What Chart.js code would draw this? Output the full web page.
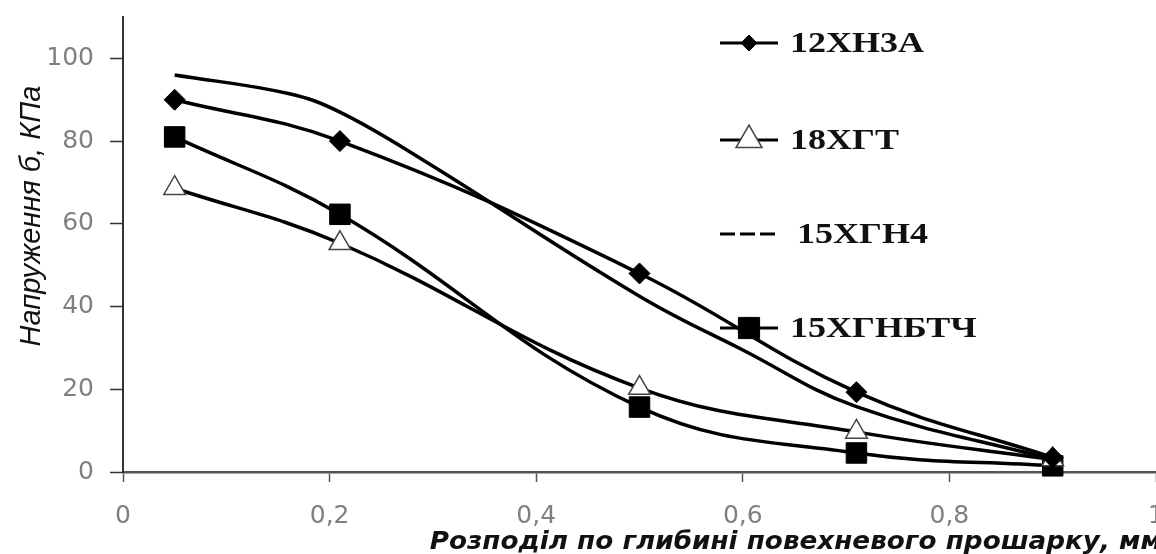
<!DOCTYPE html>
<html>
<head>
<meta charset="utf-8">
<script src="https://cdn.jsdelivr.net/npm/chart.js@4.4.1/dist/chart.umd.min.js"></script>
<style>
  html, body { margin: 0; padding: 0; background: #fff; }
</style>
</head>
<body>
<canvas id="myLineChart" width="1156" height="554"></canvas>
<script>
// depth, mm
const depth = [0.05, 0.21, 0.5, 0.71, 0.9];
// stress, KPa
const s12XN3A = [90, 80, 48, 19.3, 3.5];
const s18XGT = [68.6, 55.3, 20.3, 9.7, 3];
const s15XGNBTCh = [81, 62.3, 15.7, 4.6, 1.5];
// 15ХГН4 has no markers
const depth15XGN4 = [0.05, 0.16, 0.21, 0.29, 0.5, 0.6, 0.71, 0.9];
const s15XGN4 = [96, 91.5, 87, 75.5, 42.5, 29.5, 15.8, 3];

const xTicks = [0, 0.2, 0.4, 0.6, 0.8, 1];
const yTicks = [0, 20, 40, 60, 80, 100];

const toPoints = (xs, ys) => xs.map((x, i) => ({ x: x, y: ys[i] }));

const legendRows = [43, 140, 234, 328];

// text in the picture is a bit stretched sideways
const drawWide = (ctx, text, x, y, sx) => {
    ctx.save();
    ctx.translate(x, y);
    ctx.scale(sx, 1);
    ctx.fillText(text, 0, 0);
    ctx.restore();
};

const sideLegend = {
    id: 'sideLegend',
    afterDraw(chart) {
        const ctx = chart.ctx;
        const drawPoint = Chart.helpers && Chart.helpers.drawPoint;
        chart.data.datasets.forEach((ds, i) => {
            const y = legendRows[i];
            ctx.save();
            ctx.strokeStyle = '#000';
            ctx.lineWidth = 3;
            ctx.setLineDash(ds.legendDash || []);
            ctx.beginPath();
            ctx.moveTo(720, y);
            ctx.lineTo(778, y);
            ctx.stroke();
            ctx.setLineDash([]);
            if (drawPoint && ds.pointRadius > 0) {
                ctx.fillStyle = ds.pointBackgroundColor;
                ctx.strokeStyle = ds.pointBorderColor;
                ctx.lineWidth = ds.pointBorderWidth;
                drawPoint(ctx, { pointStyle: ds.pointStyle, radius: ds.legendRadius, borderWidth: ds.pointBorderWidth, rotation: 0 }, 749, y);
            }
            ctx.fillStyle = '#111';
            ctx.font = 'bold 30px "Liberation Serif"';
            ctx.textBaseline = 'middle';
            ctx.textAlign = 'left';
            drawWide(ctx, ds.label, ds.legendTextX || 790, y + 1, 1.2);
            ctx.restore();
        });
    }
};

const axisTitles = {
    id: 'axisTitles',
    afterDraw(chart) {
        const ctx = chart.ctx;
        ctx.save();
        ctx.fillStyle = '#111';
        ctx.font = 'italic 29px "Liberation Sans"';
        ctx.textAlign = 'center';
        ctx.textBaseline = 'middle';
        ctx.translate(32, 216);
        ctx.rotate(-Math.PI / 2);
        ctx.fillText('Напруження б, КПа', 0, 0);
        ctx.restore();

        ctx.save();
        ctx.fillStyle = '#111';
        ctx.font = 'bold italic 25px "DejaVu Sans"';
        ctx.textAlign = 'right';
        ctx.textBaseline = 'alphabetic';
        drawWide(ctx, 'Розподіл по глибині повехневого прошарку, мм', 1162, 549, 1.05);
        ctx.restore();
    }
};

const lineChart = () => {
    const data = {
        datasets: [
            {
                label: '12ХН3А',
                data: toPoints(depth, s12XN3A),
                borderColor: '#000',
                borderWidth: 3.5,
                pointStyle: 'rectRot',
                pointRadius: 10.5,
                pointBackgroundColor: '#000',
                pointBorderColor: '#000',
                pointBorderWidth: 1,
                legendRadius: 8,
            },
            {
                label: '18ХГТ',
                data: toPoints(depth, s18XGT),
                borderColor: '#000',
                borderWidth: 3.5,
                pointStyle: 'triangle',
                pointRadius: 12.5,
                pointBackgroundColor: '#fff',
                pointBorderColor: '#444',
                pointBorderWidth: 1.5,
                legendRadius: 15,
            },
            {
                label: '15ХГН4',
                data: toPoints(depth15XGN4, s15XGN4),
                borderColor: '#000',
                borderWidth: 3.5,
                pointRadius: 0,
                legendDash: [15, 5],
                legendTextX: 797,
            },
            {
                label: '15ХГНБТЧ',
                data: toPoints(depth, s15XGNBTCh),
                borderColor: '#000',
                borderWidth: 3.5,
                pointStyle: 'rect',
                pointRadius: 14.5,
                pointBackgroundColor: '#000',
                pointBorderColor: '#000',
                pointBorderWidth: 1,
                legendRadius: 15,
            },
        ],
    };

    const config = {
        type: 'line',
        data: data,
        options: {
            responsive: false,
            animation: false,
            devicePixelRatio: 1,
            layout: { autoPadding: false, padding: { left: 0, right: 0, top: 17, bottom: 0 } },
            elements: { line: { tension: 0.4, fill: false } },
            datasets: { line: { clip: false } },
            plugins: { legend: { display: false }, tooltip: { enabled: false } },
            scales: {
                x: {
                    type: 'linear',
                    min: 0,
                    max: 1,
                    afterBuildTicks: s => { s.ticks = xTicks.map(v => ({ value: v })); },
                    afterFit: s => { s.height = 82; s.paddingLeft = 0; s.paddingRight = 0; },
                    ticks: {
                        color: '#808080',
                        font: { family: 'DejaVu Sans', size: 25 },
                        padding: 19,
                        maxRotation: 0,
                        callback: v => String(v).replace('.', ','),
                    },
                    grid: { drawOnChartArea: false, tickLength: 10, tickColor: '#555', tickWidth: 1.5 },
                    border: { color: '#555', width: 2.5 },
                },
                y: {
                    min: 0,
                    max: 110,
                    afterBuildTicks: s => { s.ticks = yTicks.map(v => ({ value: v })); },
                    afterFit: s => { s.width = 123; s.paddingTop = 0; s.paddingBottom = 0; },
                    ticks: {
                        color: '#808080',
                        font: { family: 'DejaVu Sans', size: 25 },
                        padding: 16,
                    },
                    grid: { drawOnChartArea: false, tickLength: 13, tickColor: '#333', tickWidth: 1.5 },
                    border: { color: '#333', width: 2 },
                },
            },
        },
        plugins: [sideLegend, axisTitles],
    };

    const ctx = document.getElementById('myLineChart').getContext('2d');
    new Chart(ctx, config);
};

lineChart();
</script>
</body>
</html>
